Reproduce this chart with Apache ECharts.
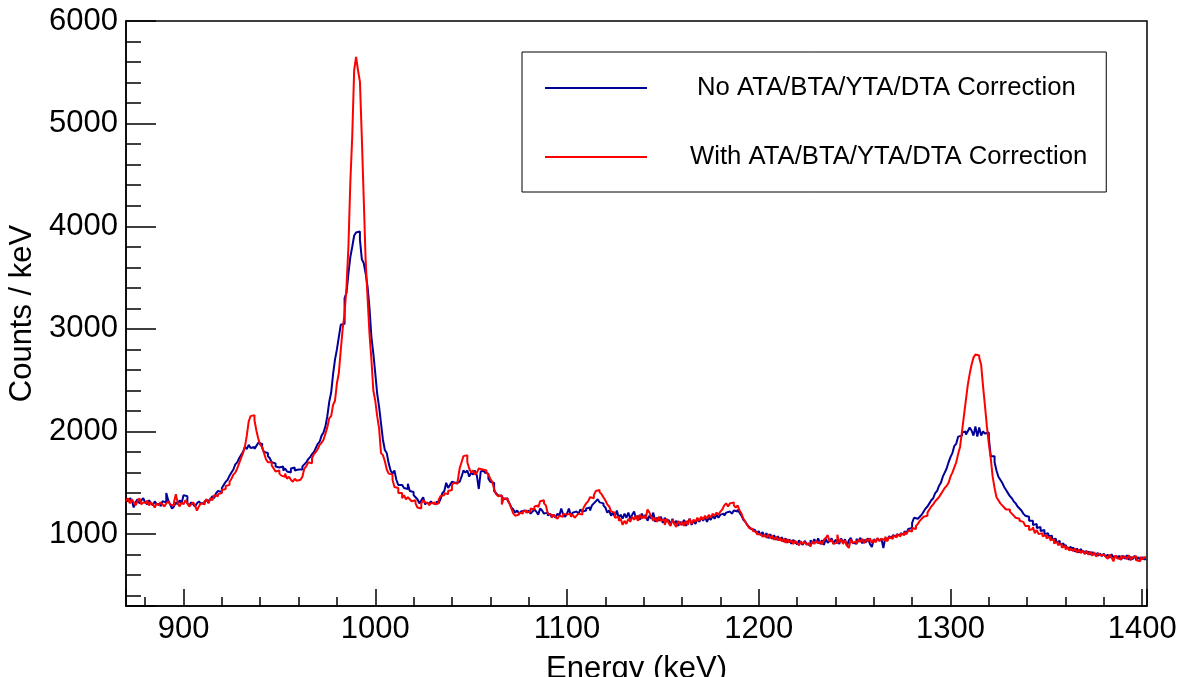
<!DOCTYPE html>
<html>
<head>
<meta charset="utf-8">
<script src="https://cdn.jsdelivr.net/npm/echarts@6/dist/echarts.min.js"></script>
<style>
html,body{margin:0;padding:0;background:#fff;}
#chart{width:1178px;height:677px;}
</style>
</head>
<body>
<div id="chart"></div>
<script>
// Histogram: 1 keV bins starting at 870 keV
const firstBinEdge = 870;
const binWidth = 1;
const xRange = [870, 1402.5];
const yRange = [300, 6000];
const seriesNames = ['No ATA/BTA/YTA/DTA Correction', 'With ATA/BTA/YTA/DTA Correction'];

const noCorrCounts = [
1340,1320,1350,1330,1260,1310,1340,1300,1330,1350,
1310,1290,1330,1300,1280,1320,1290,1300,1270,1320,
1310,1400,1330,1290,1250,1270,1310,1290,1330,1300,
1380,1370,1300,1280,1310,1290,1270,1300,1320,1300,
1300,1320,1330,1310,1340,1370,1350,1400,1420,1410,
1450,1480,1510,1530,1570,1600,1630,1680,1700,1740,
1770,1800,1850,1830,1870,1840,1850,1830,1860,1890,
1880,1840,1800,1790,1760,1740,1700,1690,1660,1650,
1640,1660,1620,1640,1610,1600,1640,1650,1620,1630,
1640,1630,1660,1680,1700,1730,1750,1780,1800,1840,
1880,1900,1960,1990,2050,2150,2290,2380,2560,2700,
2800,2920,3040,3050,3300,3350,3540,3700,3800,3910,
3940,3950,3870,3680,3640,3540,3410,3200,2920,2760,
2570,2370,2240,2080,1920,1820,1790,1690,1620,1590,
1620,1530,1480,1480,1470,1450,1440,1490,1420,1410,
1380,1360,1340,1300,1330,1360,1290,1310,1290,1320,
1300,1290,1320,1300,1340,1400,1420,1500,1450,1480,
1510,1500,1490,1510,1500,1560,1620,1600,1620,1560,
1600,1580,1620,1570,1440,1610,1620,1600,1590,1540,
1510,1500,1420,1400,1380,1370,1360,1340,1350,1330,
1300,1260,1240,1210,1230,1200,1220,1230,1240,1210,
1230,1200,1220,1240,1220,1190,1250,1230,1200,1210,
1180,1200,1170,1190,1160,1200,1180,1250,1190,1170,
1200,1250,1180,1210,1220,1230,1200,1240,1220,1230,
1250,1260,1230,1280,1300,1320,1340,1310,1300,1280,
1260,1210,1230,1180,1210,1170,1230,1160,1190,1150,
1200,1160,1210,1150,1190,1220,1150,1180,1140,1200,
1160,1190,1130,1180,1150,1210,1120,1160,1130,1170,
1110,1160,1120,1140,1090,1150,1100,1130,1080,1120,
1090,1140,1080,1120,1150,1090,1130,1100,1150,1120,
1160,1130,1170,1120,1160,1140,1180,1150,1190,1160,
1190,1200,1180,1210,1220,1230,1200,1230,1220,1240,
1210,1180,1140,1120,1090,1070,1050,1040,1030,1010,
1030,990,1020,975,1010,960,1000,955,990,945,
980,940,970,925,960,915,950,905,945,920,
900,940,915,895,935,905,890,940,910,950,
915,960,905,940,895,955,915,935,960,905,
945,925,905,960,915,950,885,940,965,915,
905,955,925,965,910,945,920,960,905,875,
950,930,960,935,955,865,965,940,980,960,
990,975,1000,985,1010,995,1030,1010,1050,1060,
1110,1160,1150,1140,1170,1190,1220,1250,1270,1300,
1330,1350,1400,1420,1470,1500,1560,1600,1640,1700,
1750,1790,1860,1880,1950,1960,1990,2000,1970,2000,
2040,2010,1960,2050,1950,2040,1960,2000,1980,1990,
1940,1760,1760,1700,1620,1560,1530,1500,1460,1430,
1400,1370,1350,1320,1300,1270,1250,1230,1200,1180,
1170,1130,1130,1090,1100,1060,1070,1030,1040,1000,
1010,980,985,950,955,920,935,900,910,875,
895,860,875,840,870,830,860,820,855,825,
835,810,830,800,825,800,815,790,810,785,
810,780,800,770,805,775,785,760,790,750,
790,760,795,750,780,755,790,745,775,750,
775,755
];

const withCorrCounts = [
1320,1350,1300,1340,1310,1280,1320,1350,1290,1310,
1300,1330,1280,1310,1290,1260,1300,1280,1310,1290,
1270,1300,1320,1290,1280,1310,1390,1300,1270,1310,
1290,1330,1300,1270,1290,1310,1280,1230,1270,1300,
1290,1320,1340,1300,1350,1330,1380,1370,1390,1400,
1430,1440,1470,1480,1510,1540,1580,1600,1640,1690,
1740,1790,1850,1960,2100,2150,2160,2110,2010,1930,
1870,1850,1790,1730,1700,1700,1670,1640,1610,1620,
1590,1570,1560,1590,1540,1560,1530,1510,1540,1520,
1530,1520,1560,1640,1660,1700,1690,1740,1780,1800,
1830,1870,1890,1920,1980,2040,2130,2150,2260,2300,
2470,2570,2790,3000,3150,3410,3800,4430,4880,5520,
5650,5520,5410,4860,4260,3660,3300,2950,2700,2400,
2300,2150,2030,1790,1770,1710,1630,1590,1580,1530,
1460,1450,1400,1400,1350,1380,1340,1360,1340,1320,
1330,1300,1260,1250,1300,1330,1310,1300,1280,1300,
1310,1290,1300,1330,1370,1380,1400,1390,1420,1430,
1480,1500,1490,1520,1640,1700,1760,1770,1700,1640,
1600,1620,1580,1600,1640,1630,1640,1620,1600,1580,
1540,1510,1440,1390,1370,1380,1290,1350,1340,1330,
1300,1250,1200,1180,1190,1210,1200,1220,1230,1210,
1220,1250,1240,1270,1280,1260,1320,1330,1300,1280,
1200,1190,1160,1190,1170,1150,1180,1170,1200,1190,
1180,1200,1170,1190,1160,1180,1200,1190,1230,1270,
1300,1320,1360,1350,1380,1420,1430,1410,1390,1360,
1330,1290,1270,1220,1210,1160,1170,1130,1150,1090,
1130,1100,1150,1120,1170,1140,1180,1130,1190,1150,
1180,1150,1240,1210,1170,1130,1160,1120,1170,1130,
1140,1090,1150,1110,1080,1140,1100,1070,1130,1090,
1120,1080,1130,1090,1150,1100,1140,1120,1160,1130,
1170,1140,1180,1150,1190,1160,1200,1180,1210,1190,
1220,1240,1280,1300,1270,1300,1310,1280,1260,1280,
1230,1200,1150,1120,1090,1060,1050,1030,1020,1000,
1000,1010,975,995,965,1000,960,985,945,975,
940,965,930,955,915,950,920,940,905,935,
915,890,930,905,925,895,915,880,930,905,
935,910,930,900,945,965,990,925,945,905,
915,995,920,950,905,940,890,865,950,915,
930,905,950,925,955,910,950,930,960,915,
945,920,960,935,955,940,975,930,970,955,
985,970,995,980,1005,990,1020,1000,1035,1025,
1060,1050,1080,1100,1130,1150,1170,1180,1210,1240,
1270,1290,1320,1340,1360,1390,1420,1450,1470,1500,
1560,1600,1650,1700,1780,1850,2000,2150,2300,2450,
2560,2650,2720,2750,2740,2720,2650,2440,2250,2050,
1880,1740,1560,1450,1360,1330,1300,1280,1260,1240,
1240,1220,1200,1180,1160,1150,1130,1120,1110,1080,
1080,1040,1050,1070,1010,1040,1000,1010,980,990,
960,975,940,950,910,925,895,905,870,885,
850,875,840,860,835,860,820,850,815,840,
805,835,800,830,790,825,780,815,795,800,
810,780,760,800,775,735,795,765,755,790,
765,785,755,795,745,775,785,745,735,780,
755,775
];

function toSteps(counts) {
  const pts = counts.map((c, i) => [firstBinEdge + i * binWidth, c]);
  pts.push([firstBinEdge + counts.length * binWidth, counts[counts.length - 1]]);
  return pts;
}

const FONT = 'Liberation Sans';
const black = '#000';
const chart = echarts.init(document.getElementById('chart'), null, {renderer: 'canvas'});

const plainNum = v => String(v);

chart.setOption({
  animation: false,
  backgroundColor: '#fff',
  grid: {
    left: 126, right: 31, top: 21, bottom: 71,
    containLabel: false, outerBoundsMode: 'none',
    show: true, borderColor: black, borderWidth: 1.5
  },
  legend: {
    orient: 'vertical',
    left: 522,
    top: 52,
    padding: [21, 19, 20, 23],
    itemGap: 39,
    itemWidth: 102,
    itemHeight: 2,
    icon: 'rect',
    borderColor: black,
    borderWidth: 1,
    backgroundColor: '#fff',
    textStyle: {color: black, fontFamily: FONT, fontSize: 25.7, lineHeight: 30},
    data: [
      {name: seriesNames[0], textStyle: {padding: [0, 0, 0, 45]}},
      {name: seriesNames[1], textStyle: {padding: [0, 0, 0, 38]}}
    ]
  },
  xAxis: {
    type: 'value',
    min: xRange[0], max: xRange[1], splitNumber: 5,
    axisLine: {show: true, onZero: false, lineStyle: {color: black, width: 1.5}},
    splitLine: {show: false},
    axisTick: {show: true, inside: true, length: 17, lineStyle: {color: black, width: 1.5}},
    minorTick: {show: true, splitNumber: 5, length: 9, lineStyle: {color: black, width: 1.5}},
    axisLabel: {color: black, fontFamily: FONT, fontSize: 31, margin: 8,
      showMinLabel: false, showMaxLabel: false, formatter: plainNum},
    name: 'Energy (keV)',
    nameLocation: 'middle',
    nameGap: 48,
    nameTextStyle: {color: black, fontFamily: FONT, fontSize: 31}
  },
  yAxis: {
    type: 'value',
    min: yRange[0], max: yRange[1], splitNumber: 5,
    axisLine: {show: true, onZero: false, lineStyle: {color: black, width: 1.5}},
    splitLine: {show: false},
    axisTick: {show: true, inside: true, length: 30, lineStyle: {color: black, width: 1.5}},
    minorTick: {show: true, splitNumber: 5, length: 15, lineStyle: {color: black, width: 1.5}},
    axisLabel: {color: black, fontFamily: FONT, fontSize: 31, margin: 8,
      showMinLabel: false, showMaxLabel: true, formatter: plainNum},
    name: 'Counts / keV',
    nameLocation: 'middle',
    nameGap: 71,
    nameTextStyle: {color: black, fontFamily: FONT, fontSize: 31}
  },
  series: [
    {
      name: seriesNames[0], type: 'line', step: 'end', showSymbol: false, symbol: 'none',
      sampling: null,
      data: toSteps(noCorrCounts),
      lineStyle: {color: '#000099', width: 2}, itemStyle: {color: '#000099'}
    },
    {
      name: seriesNames[1], type: 'line', step: 'end', showSymbol: false, symbol: 'none',
      sampling: null,
      data: toSteps(withCorrCounts),
      lineStyle: {color: '#ff0000', width: 2}, itemStyle: {color: '#ff0000'}
    }
  ]
});
</script>
</body>
</html>
